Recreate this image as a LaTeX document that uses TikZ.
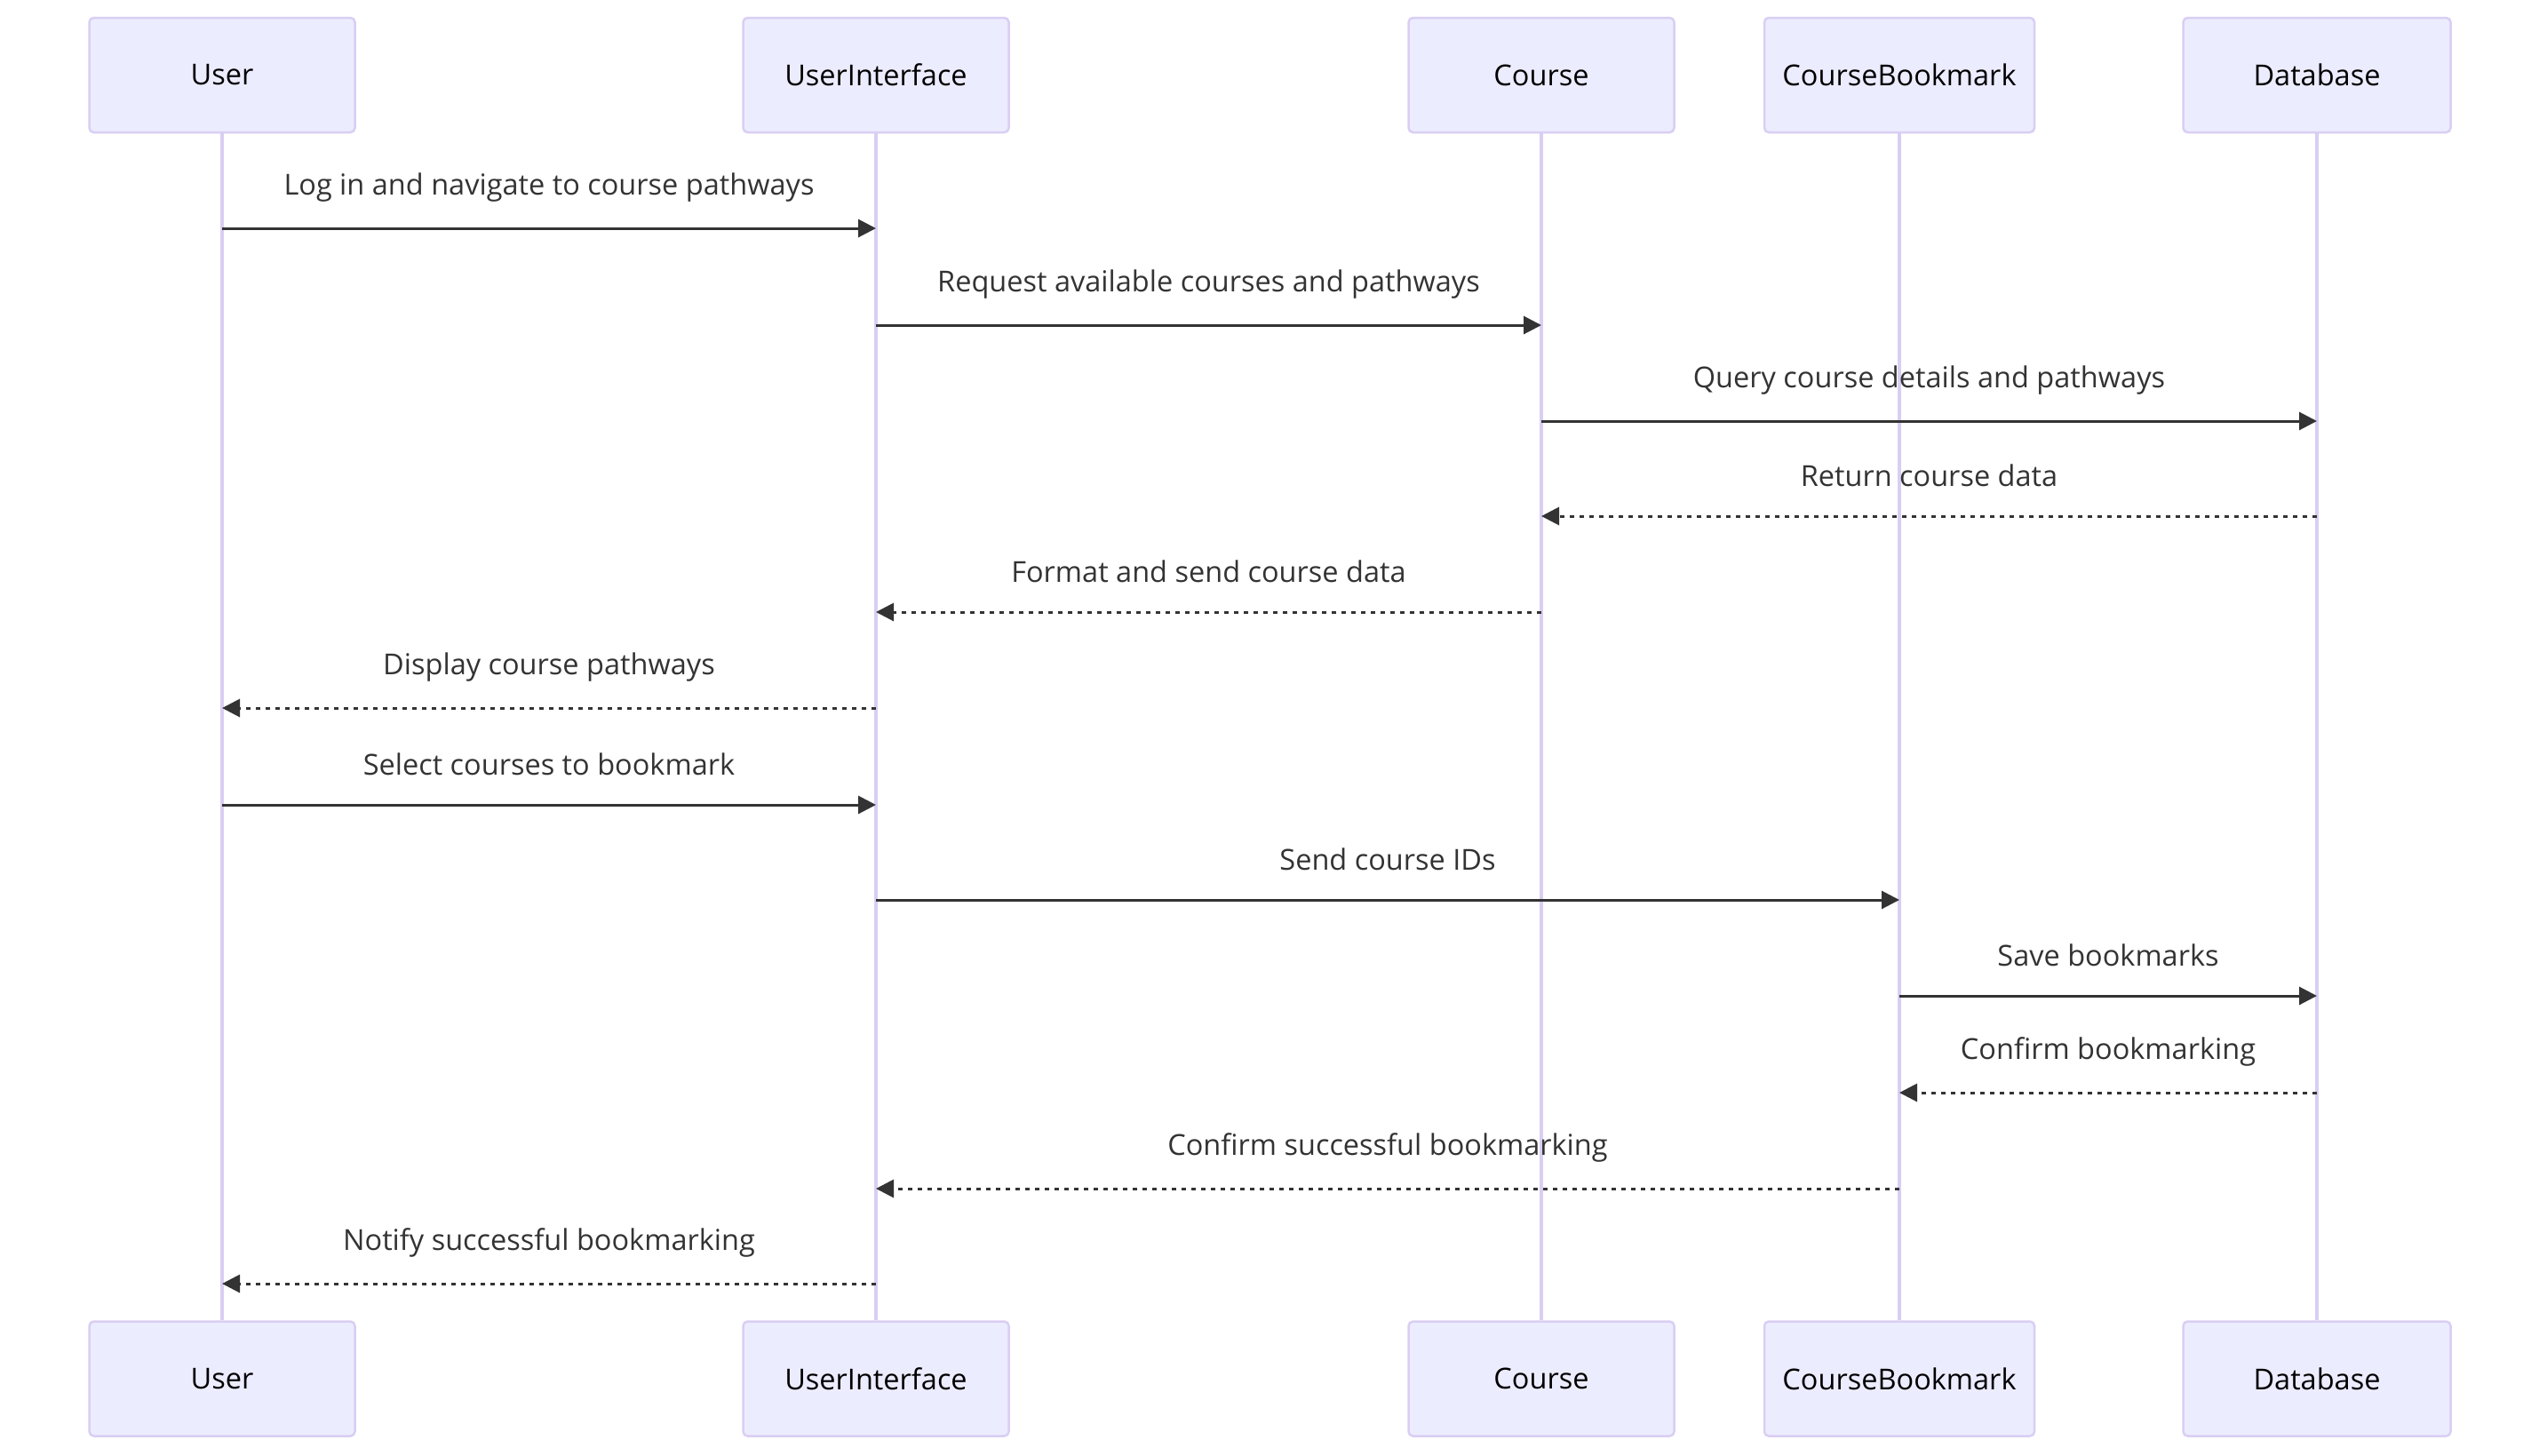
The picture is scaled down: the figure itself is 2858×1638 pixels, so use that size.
\documentclass[tikz,border=0pt]{standalone}
\usepackage{fontspec}
\setmainfont{Open Sans}
\usetikzlibrary{arrows.meta}
\definecolor{actfill}{HTML}{ECECFF}
\definecolor{actline}{HTML}{DACEF3}
\definecolor{txt}{HTML}{333333}
\tikzset{
  actor/.style={draw=actline, line width=2.5pt, fill=actfill, rounded corners=5pt,
    minimum width=299pt, minimum height=129pt, inner sep=0pt,
    font=\fontsize{32.5}{38}\selectfont, text=black},
  lifeline/.style={draw=actline, line width=3.5pt},
  msg/.style={draw=txt, line width=3pt, -{Triangle[length=20pt,width=20pt]}},
  reply/.style={msg, dash pattern=on 5.5pt off 5.5pt},
  lbl/.style={font=\fontsize{32.5}{38}\selectfont, text=txt, inner sep=0pt}
}
\begin{document}
\begin{tikzpicture}[x=1pt,y=-1pt]
\useasboundingbox (0,0) rectangle (2858,1638);
% top actors
\node[actor] (uT) at (250,84.5) {User};
\node[actor] (iT) at (986,84.5) {UserInterface};
\node[actor] (cT) at (1735,84.5) {Course};
\node[actor, minimum width=304pt] (bT) at (2138,84.5) {CourseBookmark};
\node[actor, minimum width=301pt] (dT) at (2608,84.5) {Database};
% bottom actors
\node[actor] (uB) at (250,1552) {User};
\node[actor] (iB) at (986,1552) {UserInterface};
\node[actor] (cB) at (1735,1552) {Course};
\node[actor, minimum width=304pt] (bB) at (2138,1552) {CourseBookmark};
\node[actor, minimum width=301pt] (dB) at (2608,1552) {Database};
% lifelines
\draw[lifeline] (uT.south) -- (uB.north);
\draw[lifeline] (iT.south) -- (iB.north);
\draw[lifeline] (cT.south) -- (cB.north);
\draw[lifeline] (bT.south) -- (bB.north);
\draw[lifeline] (dT.south) -- (dB.north);
% messages
\newcommand{\msgline}[5]{%
  \draw[#1] (#2.south |- 0,#4) -- (#3.south |- 0,#4);
  \path (#2.south |- 0,#4) -- (#3.south |- 0,#4) node[lbl, midway, yshift=46pt] {#5};
}
\msgline{msg}{uT}{iT}{257}{Log in and navigate to course pathways}
\msgline{msg}{iT}{cT}{366}{Request available courses and pathways}
\msgline{msg}{cT}{dT}{474}{Query course details and pathways}
\msgline{reply}{dT}{cT}{581}{Return course data}
\msgline{reply}{cT}{iT}{689}{Format and send course data}
\msgline{reply}{iT}{uT}{797}{Display course pathways}
\msgline{msg}{uT}{iT}{906}{Select courses to bookmark}
\msgline{msg}{iT}{bT}{1013}{Send course IDs}
\msgline{msg}{bT}{dT}{1121}{Save bookmarks}
\msgline{reply}{dT}{bT}{1230}{Confirm bookmarking}
\msgline{reply}{bT}{iT}{1338}{Confirm successful bookmarking}
\msgline{reply}{iT}{uT}{1445}{Notify successful bookmarking}
\end{tikzpicture}
\end{document}
